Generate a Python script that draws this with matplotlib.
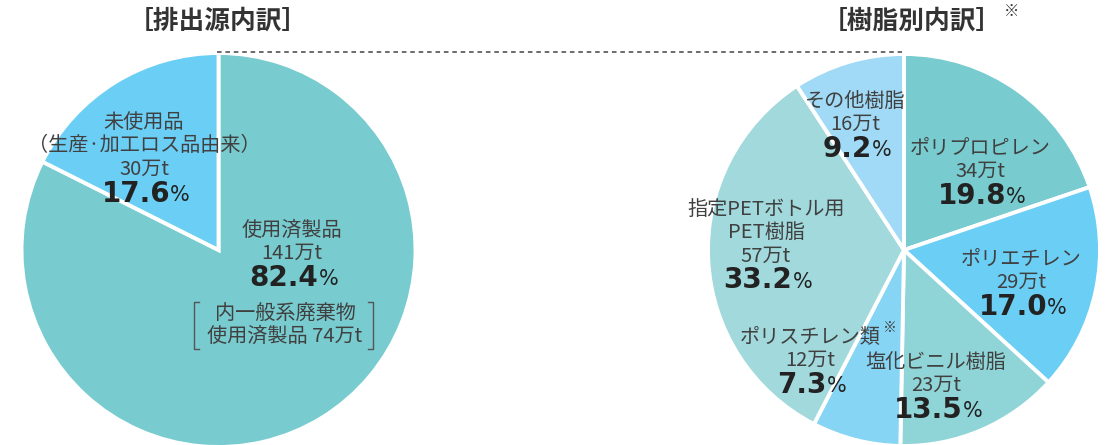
import matplotlib
matplotlib.use('Agg')
import matplotlib.pyplot as plt

plt.rcParams['font.family'] = ['Noto Sans CJK JP', 'DejaVu Sans']

# ---- data ----
src_names = ['使用済製品', '未使用品\n（生産·加工ロス品由来）']
src_amounts = [141, 30]          # 万t
src_shares = [82.4, 17.6]        # %
src_colors = ['#78cbcf', '#6bcef5']

resin_names = ['ポリプロピレン', 'ポリエチレン', '塩化ビニル樹脂', 'ポリスチレン類',
               '指定PETボトル用\nPET樹脂', 'その他樹脂']
resin_amounts = [34, 29, 23, 12, 57, 16]
resin_shares = [19.8, 17.0, 13.5, 7.3, 33.2, 9.2]
resin_colors = ['#78cbcf', '#6bcef5', '#8fd4d7', '#86d5f4', '#a1d9dc', '#a0daf6']

W, H = 1107, 445
TXT = '#404040'

fig = plt.figure(figsize=(W / 100, H / 100), dpi=100)
ax = fig.add_axes([0, 0, 1, 1])


def Y(py):
    return H - py


wp = dict(edgecolor='white', linewidth=2.8)
ax.pie(src_shares, colors=src_colors, startangle=90, counterclock=False,
       center=(218.5, Y(250)), radius=197, wedgeprops=wp, frame=True)
ax.pie(resin_shares, colors=resin_colors, startangle=90, counterclock=False,
       center=(904, Y(250)), radius=196, wedgeprops=wp, frame=True)
ax.set_xlim(0, W)
ax.set_ylim(0, H)
ax.set_aspect('equal')
ax.axis('off')

# dashed connector
ax.plot([217, 902], [Y(52), Y(52)], ls=(0, (3, 2.5)), color='#444444', lw=1.1)

# titles
ax.text(218, Y(21), '［排出源内訳］', ha='center', va='center', fontsize=18.5,
        fontweight='bold', color='#333333')
t2 = ax.text(912, Y(21), '［樹脂別内訳］', ha='center', va='center', fontsize=18.5,
             fontweight='bold', color='#333333')
ax.annotate('※', xy=(1, 0.55), xycoords=t2, xytext=(1, 0), textcoords='offset points',
            ha='left', va='bottom', fontsize=11, color='#333333')


def draw_label(x, y_first, name, amount, share, gap=23.5):
    y = y_first
    for line in name.split('\n'):
        ax.text(x, Y(y), line, ha='center', va='center', fontsize=14.5, color=TXT)
        y += gap
    ax.text(x, Y(y), f'{amount}万t', ha='center', va='center', fontsize=14.5, color=TXT)
    y += gap + 1
    num = ax.text(x - 8, Y(y), f'{share:.1f}', ha='center', va='center', fontsize=20,
                  fontweight='bold', family='DejaVu Sans', color='#222222')
    ax.annotate('%', xy=(1, 0.1), xycoords=num, ha='left', va='bottom',
                fontsize=15, color='#222222', family='DejaVu Sans')


# left pie labels
src_pos = [(292, 230), (144, 122)]
for (x, y), n, a, s in zip(src_pos, src_names, src_amounts, src_shares):
    draw_label(x, y, n, a, s)

# bracketed note
ax.text(285, Y(314), '内一般系廃棄物', ha='center', va='center', fontsize=14.5, color=TXT)
ax.text(285, Y(336), '使用済製品 74万t', ha='center', va='center', fontsize=14.5, color=TXT)
bx0, bx1, by0, by1 = 194, 373, 302, 349
ax.plot([bx0 + 5, bx0, bx0, bx0 + 5], [Y(by0), Y(by0), Y(by1), Y(by1)], color='#555555', lw=1)
ax.plot([bx1 - 5, bx1, bx1, bx1 - 5], [Y(by0), Y(by0), Y(by1), Y(by1)], color='#555555', lw=1)

# right pie labels
resin_pos = [(980, 148), (1021, 259), (936, 362), (810, 337), (766, 209), (855, 101)]
for (x, y), n, a, s in zip(resin_pos, resin_names, resin_amounts, resin_shares):
    draw_label(x, y, n, a, s)
ax.text(890, Y(328), '※', ha='center', va='center', fontsize=10, color=TXT)

fig.savefig('out.png', dpi=100)
